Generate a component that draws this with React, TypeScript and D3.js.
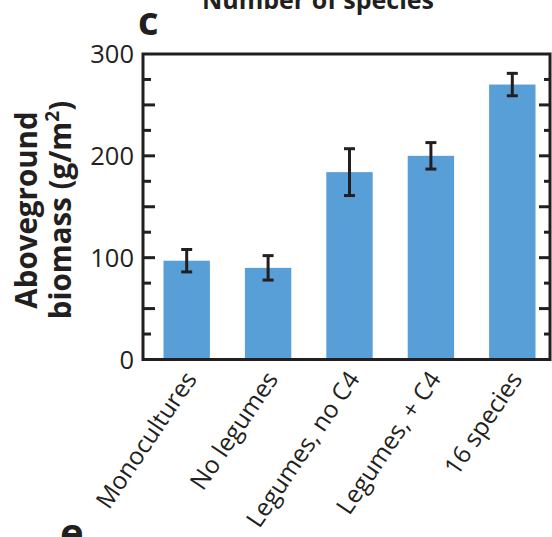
import React, { useRef, useEffect } from 'react';
import * as d3 from 'd3';

// data
const categories = ['Monocultures', 'No legumes', 'Legumes, no C4', 'Legumes, + C4', '16 species'];
const biomass = [97, 90, 184, 200, 270];
const stdErr = [11, 12, 23, 13, 11];
const yLabelTicks = [0, 100, 200, 300];
const yMinorTicks = [25, 50, 75, 100, 125, 150, 175, 200, 225, 250, 275];

const INK = '#231f20';
const BAR = '#599fd7';
const FONT = '"Open Sans", sans-serif';

export default function App() {
  const svgRef = useRef(null);

  useEffect(() => {
    const width = 552;
    const height = 537;
    const left = 143, right = 550, top = 54, bottom = 359.5;

    const svg = d3.select(svgRef.current)
      .attr('width', width)
      .attr('height', height);
    svg.selectAll('*').remove();

    const x = d3.scaleBand()
      .domain(categories)
      .range([146, 553])
      .paddingInner(0.43)
      .paddingOuter(0.215);
    const y = d3.scaleLinear().domain([0, 300]).range([bottom, top]);

    // bars
    svg.append('g')
      .selectAll('rect')
      .data(categories)
      .enter().append('rect')
      .attr('x', d => x(d))
      .attr('width', x.bandwidth())
      .attr('y', (d, i) => y(biomass[i]))
      .attr('height', (d, i) => y(0) - y(biomass[i]))
      .attr('fill', BAR);

    // error bars
    const err = svg.append('g')
      .attr('stroke', INK)
      .attr('stroke-width', 3)
      .attr('fill', 'none');
    categories.forEach((c, i) => {
      const cx = x(c) + x.bandwidth() / 2;
      const hi = y(biomass[i] + stdErr[i]);
      const lo = y(biomass[i] - stdErr[i]);
      err.append('line').attr('x1', cx).attr('x2', cx).attr('y1', hi).attr('y2', lo);
      err.append('line').attr('x1', cx - 5.5).attr('x2', cx + 5.5).attr('y1', hi).attr('y2', hi);
      err.append('line').attr('x1', cx - 5.5).attr('x2', cx + 5.5).attr('y1', lo).attr('y2', lo);
    });

    // inward ticks on both sides
    const ticks = svg.append('g').attr('stroke', INK).attr('stroke-width', 3);
    yMinorTicks.forEach(v => {
      const major = v % 50 === 0;
      ticks.append('line')
        .attr('x1', left).attr('x2', left + (major ? 12 : 8))
        .attr('y1', y(v)).attr('y2', y(v));
      ticks.append('line')
        .attr('x1', right).attr('x2', right - (major ? 11 : 6))
        .attr('y1', y(v)).attr('y2', y(v));
    });

    // frame
    svg.append('rect')
      .attr('x', left).attr('y', top)
      .attr('width', right - left).attr('height', bottom - top)
      .attr('fill', 'none')
      .attr('stroke', INK)
      .attr('stroke-width', 3);

    // y tick labels
    svg.append('g')
      .selectAll('text')
      .data(yLabelTicks)
      .enter().append('text')
      .attr('x', 134)
      .attr('y', d => y(d))
      .attr('dy', '0.36em')
      .attr('text-anchor', 'end')
      .attr('font-family', FONT)
      .attr('font-size', 25.5)
      .attr('fill', INK)
      .text(d => d);

    // category labels
    svg.append('g')
      .selectAll('text')
      .data(categories)
      .enter().append('text')
      .attr('transform', d => `translate(${x(d) + x.bandwidth() / 2 + 11},379) rotate(-56)`)
      .attr('text-anchor', 'end')
      .attr('font-family', FONT)
      .attr('font-size', 24.5)
      .attr('fill', INK)
      .text(d => d);

    // y axis title
    const yt = svg.append('text')
      .attr('transform', 'translate(0,210) rotate(-90)')
      .attr('text-anchor', 'middle')
      .attr('font-family', FONT)
      .attr('font-weight', 'bold')
      .attr('font-size', 29.5)
      .attr('fill', INK);
    yt.append('tspan').attr('x', 0).attr('y', 37).text('Aboveground');
    const l2 = yt.append('tspan').attr('x', 0).attr('y', 71).text('biomass (g/m');
    l2.append('tspan').attr('font-size', 19).attr('dy', -12).text('2');
    l2.append('tspan').attr('dy', 12).text(')');

    // panel labels and cut-off title
    svg.append('text')
      .attr('x', 318).attr('y', 9)
      .attr('text-anchor', 'middle')
      .attr('font-family', FONT)
      .attr('font-weight', 'bold')
      .attr('font-size', 25)
      .attr('fill', INK)
      .text('Number of species');
    svg.append('text')
      .attr('x', 138).attr('y', 35)
      .attr('font-family', FONT)
      .attr('font-weight', 'bold')
      .attr('font-size', 40)
      .attr('fill', INK)
      .text('c');
    svg.append('text')
      .attr('x', 60).attr('y', 547)
      .attr('font-family', FONT)
      .attr('font-weight', 'bold')
      .attr('font-size', 40)
      .attr('fill', INK)
      .text('e');
  }, []);

  return (
    <svg ref={svgRef} style={{ position: 'absolute', left: 0, top: 0, background: '#fff' }}></svg>
  );
}
